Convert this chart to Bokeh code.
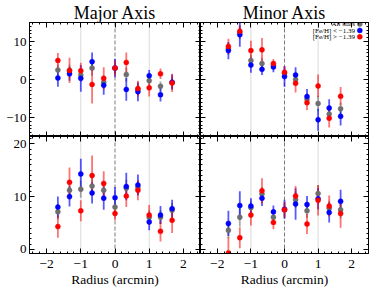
from bokeh.plotting import figure
from bokeh.layouts import column, row
from bokeh.models import (Range1d, FixedTicker, LinearAxis, Span, Label,
                          CustomJSTickFormatter, ColumnDataSource)
from bokeh.embed import file_html
from bokeh.resources import INLINE

# ---------------- data ----------------
radius = [-1.67, -1.33, -1.0, -0.67, -0.33, 0.0, 0.33, 0.67, 1.0, 1.33, 1.67]

# Major axis, top panel
maj_top_all = [2.5, 2.3, 1.2, 3.0, -0.7, 3.0, 1.3, -2.6, -0.3, -1.8, -0.85]
maj_top_all_err = [1.5, 1.6, 1.8, 2.0, 1.6, 1.5, 1.8, 1.5, 1.3, 1.3, 1.5]
maj_top_poor = [0.4, 1.5, 0.3, 4.7, -1.5, 3.0, -2.6, -3.2, 1.0, -4.0, -0.7]
maj_top_poor_err = [2.3, 1.8, 3.5, 2.4, 2.5, 2.4, 3.0, 2.5, 1.5, 1.8, 2.0]
maj_top_rich = [5.0, 2.4, 2.3, -1.3, 0.3, 3.0, 4.5, -2.4, -2.2, 1.5, -0.9]
maj_top_rich_err = [2.0, 3.3, 2.1, 5.0, 2.9, 2.0, 2.6, 2.1, 2.3, 1.4, 2.4]

# Minor axis, top panel
min_top_all = [8.1, 12.4, 5.0, 4.2, 3.8, 1.6, 0.0, -5.2, -6.3, -9.1, -7.7]
min_top_all_err = [1.5, 1.8, 1.6, 1.5, 1.0, 1.3, 1.5, 1.5, 2.0, 1.6, 1.6]
min_top_poor = [7.6, 11.8, 3.8, 2.7, 3.3, 0.8, 1.2, -4.5, -10.6, -7.5, -9.7]
min_top_poor_err = [2.3, 3.2, 2.0, 1.5, 1.4, 2.7, 2.0, 2.0, 2.9, 2.3, 2.4]
min_top_rich = [8.7, 12.7, 7.6, 7.8, 4.2, 1.9, -1.0, -6.1, -1.7, -10.2, -4.4]
min_top_rich_err = [2.0, 1.5, 2.6, 3.1, 1.2, 1.6, 2.4, 2.0, 3.0, 2.4, 2.4]

# Major axis, bottom panel
maj_bot_all = [7.1, 11.2, 11.4, 12.0, 11.2, 8.0, 11.6, 11.7, 6.1, 6.1, 7.4]
maj_bot_all_err = [1.4, 1.8, 1.6, 1.6, 1.5, 1.4, 1.6, 1.4, 1.3, 1.3, 1.4]
maj_bot_poor = [8.0, 10.0, 14.3, 10.7, 9.7, 9.8, 11.9, 12.2, 5.2, 6.5, 7.7]
maj_bot_poor_err = [2.0, 1.9, 2.9, 2.0, 2.2, 2.0, 2.6, 2.0, 1.6, 1.7, 1.7]
maj_bot_rich = [4.3, 12.7, 7.3, 14.0, 12.5, 6.8, 10.1, 11.2, 6.5, 3.4, 5.5]
maj_bot_rich_err = [2.1, 2.8, 2.0, 3.8, 2.3, 1.3, 2.1, 1.9, 1.9, 1.9, 2.4]

# Minor axis, bottom panel
min_bot_all = [3.6, 6.1, 7.9, 10.5, 6.1, 7.5, 9.4, 7.3, 10.6, 7.8, 7.5]
min_bot_all_err = [1.5, 1.8, 1.3, 1.3, 1.0, 1.3, 1.5, 1.3, 1.6, 1.4, 1.6]
min_bot_poor = [4.9, 8.3, 8.2, 9.7, 7.1, 7.6, 8.6, 8.5, 9.6, 7.0, 9.1]
min_bot_poor_err = [2.4, 2.7, 1.5, 1.5, 1.2, 1.8, 3.0, 1.6, 2.0, 1.9, 2.2]
min_bot_rich = [-0.7, 2.2, 6.5, 11.1, 5.1, 7.5, 10.1, 4.8, 9.3, 8.2, 6.8]
min_bot_rich_err = [3.0, 2.0, 2.0, 2.4, 1.3, 1.5, 1.9, 1.9, 2.9, 2.0, 2.7]

x_limits = (-2.5, 2.5)
top_limits = (-15, 15)
bot_limits = (-0.8, 21.4)
x_major_ticks = [-2, -1, 0, 1, 2]
x_minor_ticks = [round(-2.4 + 0.2 * i, 1) for i in range(25)]
top_major_ticks = [-10, 0, 10]
top_minor_ticks = list(range(-15, 16))
bot_major_ticks = [0, 10, 20]
bot_minor_ticks = list(range(0, 22))
ref_lines = [(-1, "1 1", "#b4b4b4"), (0, "4 2", "#7a7a7a"), (1, "1 1", "#b4b4b4")]
titles = ["Major Axis", "Minor Axis"]
x_label = "Radius (arcmin)"
legend_labels = ["All stars", "[Fe/H] < \u22121.39", "[Fe/H] > \u22121.39"]

FONT = "Liberation Serif"
COLORS = ["#6e6e6e", "#0000ff", "#ff0000"]
BAR_ALPHA = [0.6, 0.65, 0.55]

fmt_code = "return tick < 0 ? '\\u2212' + Math.abs(tick) : String(tick);"

TOP_H = 136        # height of the top row (title + frame)
TOP_FRAME = 115.5  # approx. frame height of the top row
BOT_H = 155        # height of the bottom row (frame + x axis)
BOT_B = 38         # bottom border of the bottom row


def make_panel(series, ylim, yt, ymt, fw, height, bl, br, bt, bb,
               left_labels, bottom_labels, title=None, legend=False):
    p = figure(width=bl + fw + br, height=height,
               x_range=Range1d(*x_limits), y_range=Range1d(*ylim),
               output_backend="svg", toolbar_location=None,
               x_axis_location=None, y_axis_location=None,
               min_border_left=bl, min_border_right=br,
               min_border_top=bt, min_border_bottom=bb)
    p.xgrid.visible = False
    p.ygrid.visible = False
    p.outline_line_color = "black"
    p.outline_line_width = 1
    p.background_fill_color = "white"
    p.border_fill_color = "white"
    if title:
        p.title.text = title
        p.title.align = "center"
        p.title.text_font = FONT
        p.title.text_font_size = "18px"
        p.title.text_font_style = "normal"
        p.title.text_color = "black"
        p.title.standoff = 0
        p.title.offset = 0

    for side in ["below", "above", "left", "right"]:
        ax = LinearAxis()
        if side in ("below", "above"):
            ax.ticker = FixedTicker(ticks=x_major_ticks, minor_ticks=x_minor_ticks)
        else:
            ax.ticker = FixedTicker(ticks=yt, minor_ticks=ymt)
        ax.major_tick_in = 5
        ax.major_tick_out = 0
        ax.minor_tick_in = 2
        ax.minor_tick_out = 0
        ax.axis_line_color = "black"
        ax.major_tick_line_color = "black"
        ax.minor_tick_line_color = "black"
        show = (side == "below" and bottom_labels) or (side == "left" and left_labels)
        if show:
            ax.formatter = CustomJSTickFormatter(code=fmt_code)
            ax.major_label_text_font = FONT
            ax.major_label_text_font_size = "13.5px" if side == "below" else "13px"
            ax.major_label_text_color = "black"
            ax.major_label_standoff = 6 if side == "below" else 3
            if side == "below":
                ax.axis_label = x_label
                ax.axis_label_text_font = FONT
                ax.axis_label_text_font_size = "13.5px"
                ax.axis_label_text_font_style = "normal"
                ax.axis_label_text_color = "black"
                ax.axis_label_standoff = 1
        else:
            ax.major_label_text_color = None
            ax.major_label_text_font_size = "0px"
            ax.major_label_standoff = 0
        p.add_layout(ax, side)

    for loc, dash, col in ref_lines:
        p.add_layout(Span(location=loc, dimension="height", line_color=col,
                          line_dash=dash, line_width=1, level="underlay"))

    srcs = []
    for (vals, errs), color, alpha in zip(series, COLORS, BAR_ALPHA):
        src = ColumnDataSource(dict(
            x=radius, y=vals,
            lo=[v - e for v, e in zip(vals, errs)],
            hi=[v + e for v, e in zip(vals, errs)]))
        srcs.append(src)
        p.segment(x0="x", y0="lo", x1="x", y1="hi", source=src,
                  line_color=color, line_alpha=alpha, line_width=1.8)
    for src, color in zip(srcs, COLORS):
        p.scatter(x="x", y="y", source=src, size=5, marker="circle",
                  fill_color=color, line_color=color, line_width=0.5)

    if legend:
        px_x = fw / (x_limits[1] - x_limits[0])
        px_y = TOP_FRAME / (ylim[1] - ylim[0])
        ly = []
        for k, lab in enumerate(legend_labels):
            dy = 1.5 + 6.5 * k
            ly.append(ylim[1] - dy / px_y)
            p.add_layout(Label(x=x_limits[1], y=ylim[1], x_offset=-13.5,
                               y_offset=-dy, text=lab, text_align="right",
                               text_baseline="middle", text_font=FONT,
                               text_font_size="7px", text_color="black"))
        lx = [x_limits[1] - 8.7 / px_x] * len(legend_labels)
        p.scatter(x=lx, y=ly, size=5, marker="circle",
                  fill_color=COLORS, line_color=COLORS, line_width=0.5)
    return p


tl = make_panel([(maj_top_all, maj_top_all_err), (maj_top_poor, maj_top_poor_err),
                 (maj_top_rich, maj_top_rich_err)],
                top_limits, top_major_ticks, top_minor_ticks,
                171, TOP_H, 29, 0, 0, 0, True, False, title=titles[0])
tr = make_panel([(min_top_all, min_top_all_err), (min_top_poor, min_top_poor_err),
                 (min_top_rich, min_top_rich_err)],
                top_limits, top_major_ticks, top_minor_ticks,
                168, TOP_H, 0, 2, 0, 0, False, False, title=titles[1], legend=True)
bl = make_panel([(maj_bot_all, maj_bot_all_err), (maj_bot_poor, maj_bot_poor_err),
                 (maj_bot_rich, maj_bot_rich_err)],
                bot_limits, bot_major_ticks, bot_minor_ticks,
                171, BOT_H, 29, 0, 0, BOT_B, True, True)
br = make_panel([(min_bot_all, min_bot_all_err), (min_bot_poor, min_bot_poor_err),
                 (min_bot_rich, min_bot_rich_err)],
                bot_limits, bot_major_ticks, bot_minor_ticks,
                168, BOT_H, 0, 2, 0, BOT_B, False, True)

layout = column(row(tl, tr), row(bl, br))

with open("out.html", "w", encoding="utf-8") as f:
    f.write(file_html(layout, INLINE))
